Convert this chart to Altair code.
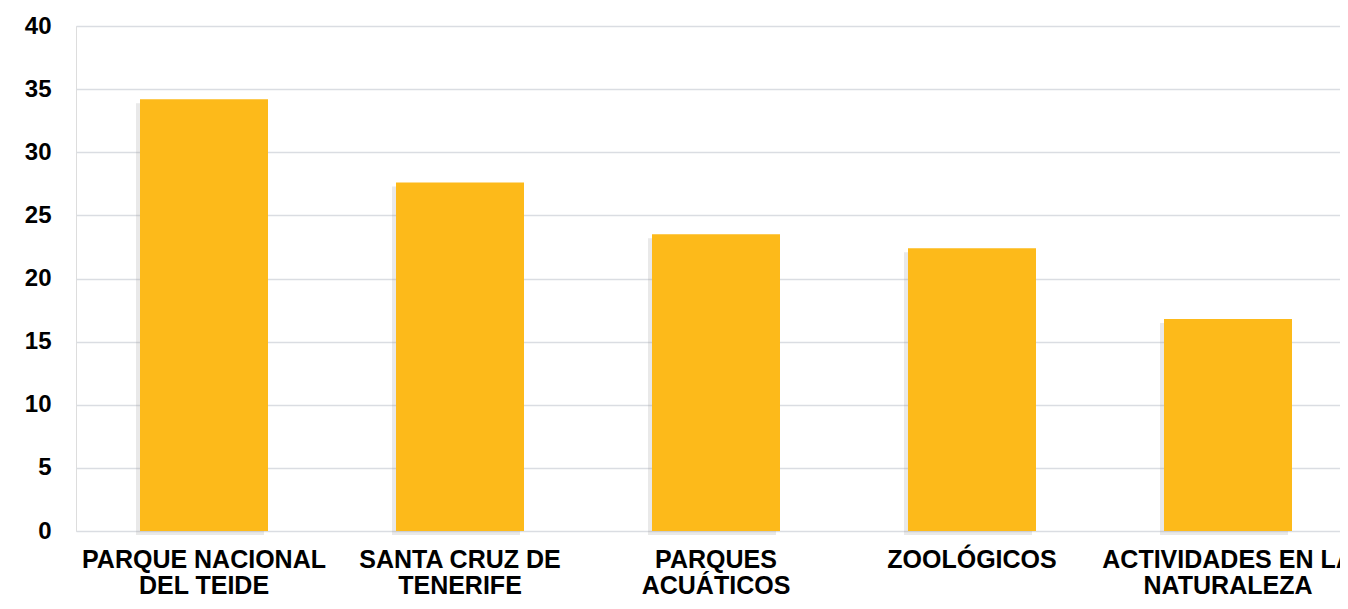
import altair as alt
import pandas as pd

categories = ["PARQUE NACIONAL|DEL TEIDE", "SANTA CRUZ DE|TENERIFE", "PARQUES|ACUÁTICOS",
              "ZOOLÓGICOS", "ACTIVIDADES EN LA|NATURALEZA"]
values = [34.2, 27.6, 23.5, 22.4, 16.8]
y_ticks = [0, 5, 10, 15, 20, 25, 30, 35, 40]

df = pd.DataFrame({"cat": categories, "val": values})

x_enc = alt.X("cat:N", sort=categories, title=None,
              scale=alt.Scale(paddingInner=0.5, paddingOuter=0.25, range=[0, 1280]),
              axis=alt.Axis(labelAngle=0, domain=False, ticks=False, labelPadding=16,
                            labelFont="Liberation Sans", labelFontWeight="bold",
                            labelFontSize=25, labelColor="#000000", labelLineHeight=26,
                            labelBaseline="top", labelLimit=400,
                            labelExpr="split(datum.label, '|')"))
y_enc = alt.Y("val:Q", title=None,
              scale=alt.Scale(domain=[0, 40], nice=False),
              axis=alt.Axis(values=y_ticks, domain=False, ticks=False, labelPadding=25,
                            labelFont="Liberation Sans", labelFontWeight="bold",
                            labelFontSize=24, labelColor="#000000",
                            gridColor="#DADDE2", gridWidth=1.6))

shadow = alt.Chart(df).mark_bar(color="#9a9a9a", opacity=0.22, xOffset=-4, yOffset=4).encode(
    x=x_enc, y=y_enc)
bars = alt.Chart(df).mark_bar(color="#FDBA1A").encode(x=x_enc, y=y_enc)

chart = alt.layer(shadow, bars).properties(
    width=1264, height=505,
    autosize=alt.AutoSizeParams(type="none"),
    padding={"left": 68, "top": 18, "right": 0, "bottom": 69},
).configure_view(stroke=None).configure(background="#ffffff")

chart.save("out.html", embed_options={"renderer": "svg", "actions": False})
